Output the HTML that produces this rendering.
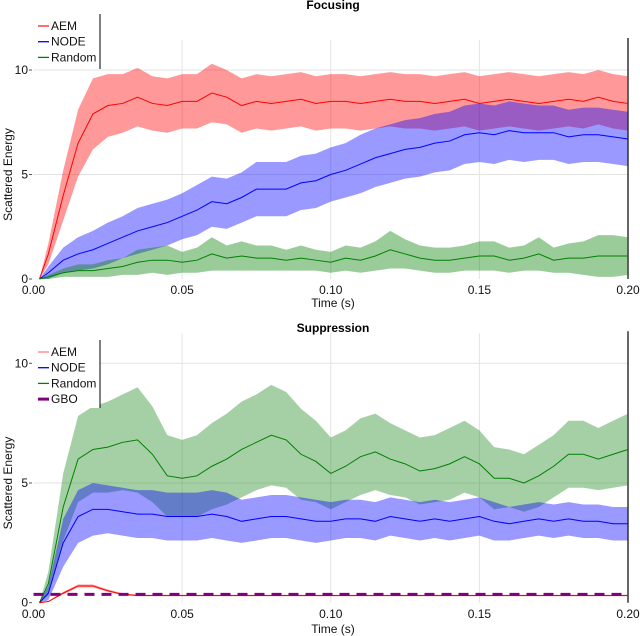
<!DOCTYPE html>
<html><head><meta charset="utf-8"><style>
body{margin:0;background:#fff;}
svg{display:block;font-family:"Liberation Sans",sans-serif;}
</style></head><body>
<svg id="chart" width="640" height="636" viewBox="0 0 640 636"></svg>
<script>
const times=[0.002,0.005,0.01,0.015,0.02,0.025,0.03,0.035,0.04,0.045,0.05,0.055,0.06,0.065,0.07,0.075,0.08,0.085,0.09,0.095,0.1,0.105,0.11,0.115,0.12,0.125,0.13,0.135,0.14,0.145,0.15,0.155,0.16,0.165,0.17,0.175,0.18,0.185,0.19,0.195,0.2];
// Focusing
const focAem=[0,1.2,4.0,6.5,7.9,8.3,8.4,8.7,8.4,8.3,8.5,8.5,8.9,8.7,8.3,8.5,8.4,8.5,8.6,8.4,8.5,8.5,8.4,8.5,8.6,8.5,8.5,8.4,8.5,8.6,8.4,8.5,8.6,8.5,8.4,8.5,8.6,8.5,8.7,8.5,8.4];
const focAemSd=[0,0.5,1.2,1.6,1.7,1.5,1.4,1.4,1.3,1.3,1.3,1.3,1.4,1.3,1.3,1.3,1.3,1.3,1.3,1.3,1.3,1.3,1.3,1.3,1.3,1.3,1.3,1.3,1.3,1.3,1.3,1.3,1.3,1.3,1.3,1.3,1.3,1.3,1.3,1.3,1.3];
const focNode=[0,0.3,0.9,1.2,1.4,1.7,2.0,2.3,2.5,2.7,3.0,3.3,3.7,3.6,3.9,4.3,4.3,4.3,4.6,4.7,5.0,5.2,5.5,5.8,6.0,6.2,6.3,6.5,6.6,6.9,7.0,6.9,7.1,7.0,7.0,7.0,6.8,6.9,6.9,6.8,6.7];
const focNodeSd=[0,0.3,0.6,0.8,0.9,1.0,1.0,1.1,1.1,1.1,1.1,1.2,1.2,1.2,1.2,1.3,1.3,1.3,1.3,1.3,1.3,1.3,1.4,1.4,1.4,1.4,1.4,1.4,1.4,1.4,1.4,1.4,1.4,1.4,1.3,1.3,1.3,1.3,1.3,1.3,1.3];
const focRand=[0,0.1,0.3,0.4,0.4,0.5,0.6,0.8,0.9,0.9,0.8,0.9,1.2,1.0,1.1,1.0,1.0,0.9,1.0,0.9,0.8,1.0,0.9,1.1,1.4,1.2,1.0,0.9,0.9,1.0,1.1,1.1,0.9,1.0,1.2,0.9,1.0,1.0,1.1,1.1,1.1];
const focRandSd=[0,0.1,0.2,0.3,0.3,0.4,0.4,0.6,0.6,0.7,0.5,0.6,0.8,0.6,0.7,0.6,0.6,0.5,0.6,0.5,0.5,0.6,0.6,0.7,0.9,0.7,0.6,0.6,0.6,0.6,0.7,0.7,0.6,0.6,0.8,0.6,0.7,0.8,1.0,1.0,0.9];
// Suppression
const supRand=[0,0.8,4.0,6.0,6.4,6.5,6.7,6.8,6.2,5.3,5.2,5.3,5.7,6.0,6.4,6.7,7.0,6.8,6.2,5.9,5.4,5.7,6.1,6.3,6.0,5.8,5.5,5.6,5.8,6.1,5.8,5.2,5.2,5.0,5.3,5.7,6.2,6.2,6.0,6.2,6.4];
const supRandSd=[0,0.5,1.4,1.8,1.8,1.9,2.0,2.2,2.0,1.7,1.6,1.7,1.8,1.9,2.0,2.0,2.1,2.0,1.9,1.7,1.5,1.5,1.6,1.6,1.5,1.4,1.4,1.4,1.5,1.5,1.4,1.3,1.2,1.2,1.3,1.3,1.4,1.4,1.3,1.4,1.5];
const supNode=[0,0.4,2.5,3.6,3.9,3.9,3.8,3.7,3.7,3.6,3.6,3.6,3.7,3.6,3.4,3.5,3.6,3.6,3.5,3.4,3.4,3.5,3.5,3.4,3.6,3.5,3.4,3.5,3.4,3.5,3.6,3.4,3.3,3.4,3.5,3.4,3.5,3.4,3.4,3.3,3.3];
const supNodeSd=[0,0.3,1.0,1.1,1.1,1.0,1.0,1.0,1.0,1.0,1.0,1.0,1.0,1.0,0.9,0.9,0.9,0.9,0.9,0.9,0.8,0.8,0.8,0.8,0.8,0.8,0.8,0.8,0.8,0.8,0.8,0.8,0.7,0.7,0.7,0.7,0.7,0.7,0.7,0.7,0.7];
const supAem=[0,0.05,0.4,0.7,0.7,0.5,0.35,0.3,0.3,0.3,0.3,0.3,0.3,0.3,0.3,0.3,0.3,0.3,0.3,0.3,0.3,0.3,0.3,0.3,0.3,0.3,0.3,0.3,0.3,0.3,0.3,0.3,0.3,0.3,0.3,0.3,0.3,0.3,0.3,0.3,0.3];
const supAemSd=[0,0.02,0.05,0.06,0.06,0.05,0.04,0.03,0.03,0.03,0.03,0.03,0.03,0.03,0.03,0.03,0.03,0.03,0.03,0.03,0.03,0.03,0.03,0.03,0.03,0.03,0.03,0.03,0.03,0.03,0.03,0.03,0.03,0.03,0.03,0.03,0.03,0.03,0.03,0.03,0.03];
const gboLevel=[0.35];
const xTicks=[0,0.05,0.1,0.15,0.2];
const xTickLabels=["0.00","0.05","0.10","0.15","0.20"];
const yTicks=[0,5,10];
const yTickLabels=["0","5","10"];

const NS="http://www.w3.org/2000/svg";
const svg=document.getElementById('chart');
function mk(tag,attrs,parent){const e=document.createElementNS(NS,tag);for(const k in attrs)e.setAttribute(k,attrs[k]);(parent||svg).appendChild(e);return e;}
const X0=33.5,X1=628;
const xs=t=>X0+(t/0.2)*(X1-X0);

function panel(name,title,y0,y10,titleY,xlabY,timeY,bands,lines,legend,legTop,legBot){
  const g=mk('g',{});
  
  
  const ys=v=>y0+(y10-y0)*v/10;
  // grid
  yTicks.forEach((v,i)=>{
    if(v>0){const l=mk('line',{x1:X0,x2:X1,y1:ys(v),y2:ys(v),stroke:'#e3e3e3','stroke-width':1},g);
      }
    const tk=mk('line',{x1:29,x2:32,y1:ys(v),y2:ys(v),stroke:'#555','stroke-width':1},g);
    
    const tx=mk('text',{x:28,y:ys(v)+4,'text-anchor':'end','font-size':12,fill:'#111'},g);tx.textContent=yTickLabels[i];
    
  });
  xTicks.forEach((v,i)=>{
    if(v>0&&v<0.2){const l=mk('line',{x1:xs(v),x2:xs(v),y1:y10-30,y2:y0,stroke:'#e3e3e3','stroke-width':1},g);
      }
    const tx=mk('text',{x:xs(v),y:xlabY,'text-anchor':'middle','font-size':12,fill:'#111'},g);tx.textContent=xTickLabels[i];
    
  });
  const rl=mk('line',{x1:X1,x2:X1,y1:y10-32,y2:y0,stroke:'#000','stroke-width':1.2},g);
  
  bands.forEach(b=>{
    let d='';times.forEach((t,i)=>{d+=(i?'L':'M')+xs(t)+','+ys(b.m[i]+b.s[i]);});
    for(let i=times.length-1;i>=0;i--)d+='L'+xs(times[i])+','+ys(Math.max(0,b.m[i]-b.s[i]));
    const p=mk('path',{d:d+'Z',fill:b.c,'fill-opacity':0.4,stroke:'none'},g);
    
  });
  lines.forEach(b=>{
    let d='';times.forEach((t,i)=>{d+=(i?'L':'M')+xs(t)+','+ys(b.m[i]);});
    const p=mk('path',{d:d,fill:'none',stroke:b.c,'stroke-width':1},g);
    
  });
  if(name==='suppression'){
    const l=mk('line',{x1:X0,x2:X1,y1:ys(gboLevel[0]),y2:ys(gboLevel[0]),stroke:'#800080','stroke-width':3,'stroke-dasharray':'10,7'},g);
    
  }
  const tt=mk('text',{x:333,y:titleY,'text-anchor':'middle','font-size':12,'font-weight':'bold',fill:'#000'},g);tt.textContent=title;
  
  const xt=mk('text',{x:333,y:timeY,'text-anchor':'middle','font-size':12,fill:'#111'},g);xt.textContent='Time (s)';
  
  const yt=mk('text',{x:0,y:0,'text-anchor':'middle','font-size':12,fill:'#111',transform:`translate(12,${(y0+y10)/2}) rotate(-90)`},g);yt.textContent='Scattered Energy';
  
  // legend
  const lg=mk('g',{},g);
  
  mk('rect',{x:33,y:legTop,width:67,height:legBot-legTop,fill:'#fff'},lg);
  mk('line',{x1:100,x2:100,y1:legTop,y2:legBot,stroke:'#000','stroke-width':1},lg);
  legend.forEach((e,i)=>{
    const ey=legTop+12+i*15.7;
    const it=mk('g',{},lg);
    
    mk('line',{x1:38,x2:49,y1:ey,y2:ey,stroke:e.c,'stroke-width':e.w||1.3},it);
    const t=mk('text',{x:51,y:ey+4,'font-size':12,fill:'#111'},it);t.textContent=e.n;
  });
}
panel('focusing','Focusing',279,70,9,294,307,
 [{n:'aem',m:focAem,s:focAemSd,c:'#ff0000'},{n:'node',m:focNode,s:focNodeSd,c:'#0000ff'},{n:'random',m:focRand,s:focRandSd,c:'#008000'}],
 [{n:'aem',m:focAem,c:'#ff0000'},{n:'node',m:focNode,c:'#0000ff'},{n:'random',m:focRand,c:'#008000'}],
 [{n:'AEM',c:'#ff2020'},{n:'NODE',c:'#0000ff'},{n:'Random',c:'#008000'}],14,69);
panel('suppression','Suppression',602.7,363.3,332,618,633,
 [{n:'random',m:supRand,s:supRandSd,c:'#1f8a1f'},{n:'node',m:supNode,s:supNodeSd,c:'#0000ff'},{n:'aem',m:supAem,s:supAemSd,c:'#ff0000'}],
 [{n:'random',m:supRand,c:'#008000'},{n:'node',m:supNode,c:'#0000ff'},{n:'aem',m:supAem,c:'#ff0000'}],
 [{n:'AEM',c:'#ff8080'},{n:'NODE',c:'#0000ff'},{n:'Random',c:'#008000'},{n:'GBO',c:'#800080',w:3}],340,408);
</script>
</body></html>
